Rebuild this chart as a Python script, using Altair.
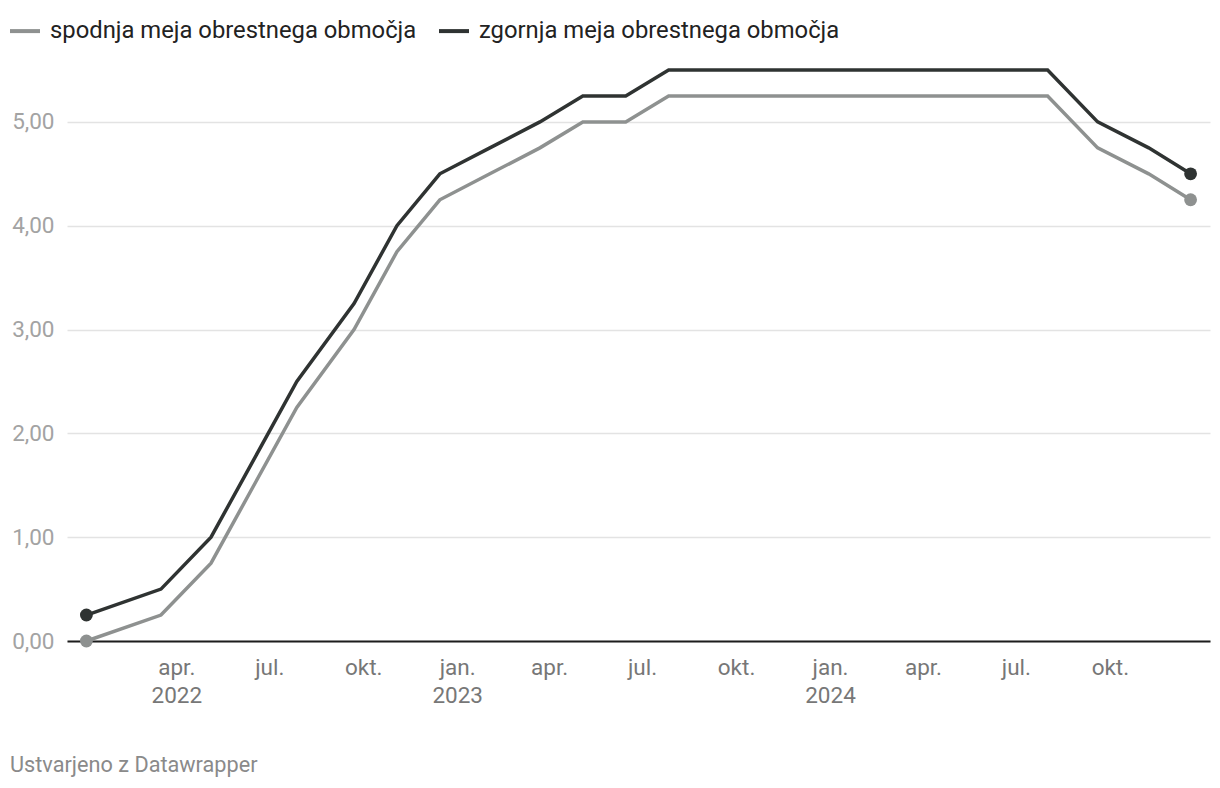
import altair as alt
import pandas as pd

dates = ["2022-01-03", "2022-03-17", "2022-05-05", "2022-06-16", "2022-07-28",
         "2022-09-22", "2022-11-03", "2022-12-15", "2023-02-02", "2023-03-23",
         "2023-05-04", "2023-06-15", "2023-07-27", "2024-08-01", "2024-09-19",
         "2024-11-08", "2024-12-19"]
lower = [0.00, 0.25, 0.75, 1.50, 2.25, 3.00, 3.75, 4.25, 4.50, 4.75,
         5.00, 5.00, 5.25, 5.25, 4.75, 4.50, 4.25]
upper = [0.25, 0.50, 1.00, 1.75, 2.50, 3.25, 4.00, 4.50, 4.75, 5.00,
         5.25, 5.25, 5.50, 5.50, 5.00, 4.75, 4.50]
series = ["spodnja meja obrestnega območja", "zgornja meja obrestnega območja"]
colors = ["#8e9190", "#2f3332"]
y_ticks = [0, 1, 2, 3, 4, 5]
x_ticks = [(2022, 4), (2022, 7), (2022, 10), (2023, 1), (2023, 4), (2023, 7),
           (2023, 10), (2024, 1), (2024, 4), (2024, 7), (2024, 10)]
footer = ["Ustvarjeno z Datawrapper"]

rows = []
for s, vals in zip(series, [lower, upper]):
    for i, (d, v) in enumerate(zip(dates, vals)):
        rows.append({"date": d, "value": v, "series": s,
                     "end": i == 0 or i == len(dates) - 1})
df = pd.DataFrame(rows)

FONT = "Roboto"
MONTHS = "['jan.','feb.','mar.','apr.','maj','jun.','jul.','avg.','sep.','okt.','nov.','dec.'][utcmonth(datum.value)]"

x_enc = alt.X(
    "date:T",
    scale=alt.Scale(type="utc",
                    domain=[alt.DateTime(year=2021, month=12, date=15, utc=True),
                            alt.DateTime(year=2025, month=1, date=7, utc=True)]),
    axis=alt.Axis(
        title=None,
        values=[alt.DateTime(year=y, month=m, date=1, utc=True) for y, m in x_ticks],
        labelExpr=("(utcmonth(datum.value)==0 || (utcyear(datum.value)==2022 && utcmonth(datum.value)==3))"
                   f" ? [{MONTHS}, '' + utcyear(datum.value)] : {MONTHS}"),
        grid=False, ticks=False, domain=True, domainColor="#1d1d1d", domainWidth=2,
        labelFont=FONT, labelFontSize=22.5, labelColor="#777777", labelPadding=15,
        labelLineHeight=28, labelBaseline="top",
    ),
)
y_enc = alt.Y(
    "value:Q",
    scale=alt.Scale(domain=[0, 5.5], nice=False),
    axis=alt.Axis(
        title=None, values=y_ticks,
        labelExpr="replace(format(datum.value, '.2f'), '.', ',')",
        grid=True, gridColor="#e3e3e3", gridWidth=1.5, ticks=False, domain=False,
        labelFont=FONT, labelFontSize=22.5, labelColor="#a3a3a3", labelPadding=13,
    ),
)
color_enc = alt.Color(
    "series:N",
    scale=alt.Scale(domain=series, range=colors),
    legend=alt.Legend(
        title=None, orient="none", legendX=-59, legendY=-56, direction="horizontal",
        symbolType="stroke", symbolSize=900, symbolStrokeWidth=4,
        labelFont=FONT, labelFontSize=23.8, labelColor="#222222", labelOffset=8,
        columnPadding=14, labelLimit=600,
    ),
)

base = alt.Chart(df)
lines = base.mark_line(strokeWidth=3.5).encode(x=x_enc, y=y_enc, color=color_enc)
points = base.transform_filter("datum.end").mark_point(
    filled=True, size=165, opacity=1).encode(
    x=x_enc, y=y_enc,
    color=alt.Color("series:N", scale=alt.Scale(domain=series, range=colors), legend=None))

foot = alt.Chart(pd.DataFrame({"t": footer})).mark_text(
    align="left", baseline="middle", font=FONT, fontSize=21.7, color="#8a8a8a"
).encode(x=alt.value(-57), y=alt.value(695), text="t:N")

chart = alt.layer(lines, points, foot).properties(
    width=1143, height=571,
    autosize=alt.AutoSizeParams(type="none"),
    padding={"left": 59, "top": 62, "right": 2, "bottom": 139},
).configure_view(stroke=None)

chart.save("out.html", embed_options={"renderer": "svg", "actions": False})
